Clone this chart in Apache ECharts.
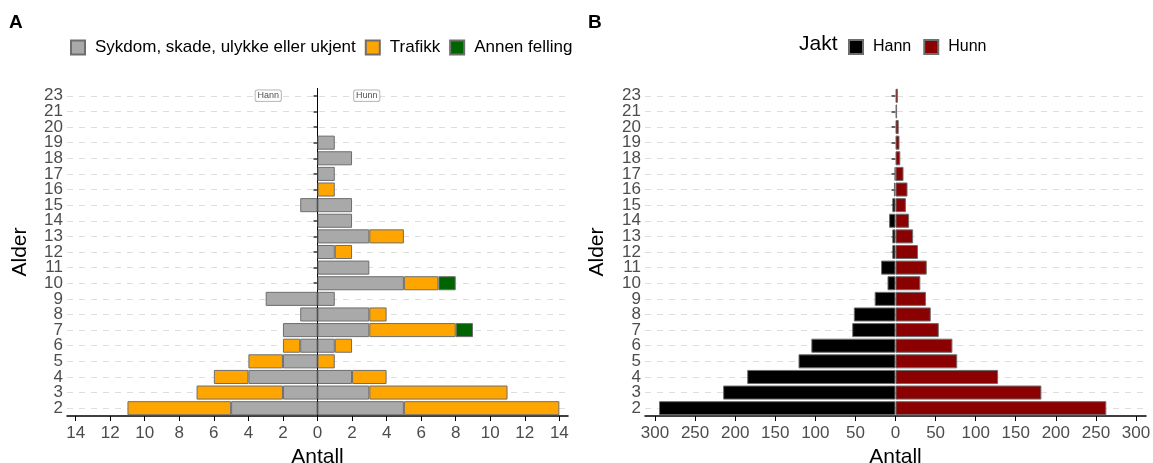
<!DOCTYPE html>
<html><head><meta charset="utf-8">
<script src="https://cdn.jsdelivr.net/npm/echarts@6/dist/echarts.min.js"></script>
<style>html,body{margin:0;padding:0;background:#fff}#c{width:1153px;height:463px}</style>
</head><body><div id="c"></div>
<script>
// Age categories (bottom to top)
const ages = ['2','3','4','5','6','7','8','9','10','11','12','13','14','15','16','17','18','19','20','21','23'];

// Panel A: counts by cause (Hann shown to the left, Hunn to the right)
const sykdomHann  = [5,2,4,2,1,2,1,3,0,0,0,0,0,1,0,0,0,0,0,0,0];
const trafikkHann = [6,5,2,2,1,0,0,0,0,0,0,0,0,0,0,0,0,0,0,0,0];
const annenHann   = [0,0,0,0,0,0,0,0,0,0,0,0,0,0,0,0,0,0,0,0,0];
const sykdomHunn  = [5,3,2,0,1,3,3,1,5,3,1,3,2,2,0,1,2,1,0,0,0];
const trafikkHunn = [9,8,2,1,1,5,1,0,2,0,1,2,0,0,1,0,0,0,0,0,0];
const annenHunn   = [0,0,0,0,0,1,0,0,1,0,0,0,0,0,0,0,0,0,0,0,0];

// Panel B: hunting (Jakt)
const jaktHann = [295,215,185,121,105,54,52,26,10,18,4,4,8,4,2,1,0,0,0,0,0];
const jaktHunn = [263,182,128,77,71,54,44,38,31,39,28,22,17,13,15,10,6,5,4,2,3];

// Tick labels
const ticksA = [-14,-12,-10,-8,-6,-4,-2,0,2,4,6,8,10,12,14];
const ticksB = [-300,-250,-200,-150,-100,-50,0,50,100,150,200,250,300];

// Annotation labels in panel A
const annotX = [-2.85, 2.85];
const annotText = ['Hann','Hunn'];
const annotAge = '23';

const causeNames = ['Sykdom, skade, ulykke eller ukjent','Trafikk','Annen felling'];
const causeColors = ['#A9A9A9','#FFA500','#006400'];

const FONT = 'Liberation Sans, Arial, sans-serif';
const neg = a => a.map(v => v === 0 ? '-' : -v);
const pos = a => a.map(v => v === 0 ? '-' : v);
const barBorder = {borderColor:'#6e6e6e', borderWidth:1};

function barSeries(name, data, color, xi) {
  return {
    type:'bar', name, data, stack: 'S' + xi, xAxisIndex: xi, yAxisIndex: xi,
    barCategoryGap:'10%', zlevel: 1, z: 3,
    itemStyle: Object.assign({color}, barBorder),
    emphasis:{disabled:true}
  };
}

const gridLineSeries = xi => ({
  type:'scatter', name:'_grid'+xi, data:[], xAxisIndex: xi, yAxisIndex: xi, zlevel:0, z:1, silent:true,
  markLine:{ silent:true, symbol:'none', animation:false,
    label:{show:false},
    lineStyle:{color:'#dedede', width:1, type:[6,6]},
    data: ages.map(a => ({yAxis:a}))
  }
});

const series = [
  gridLineSeries(0), gridLineSeries(1),
  barSeries(causeNames[0], neg(sykdomHann), causeColors[0], 0),
  barSeries(causeNames[0], pos(sykdomHunn), causeColors[0], 0),
  barSeries(causeNames[1], neg(trafikkHann), causeColors[1], 0),
  barSeries(causeNames[1], pos(trafikkHunn), causeColors[1], 0),
  barSeries(causeNames[2], neg(annenHann), causeColors[2], 0),
  barSeries(causeNames[2], pos(annenHunn), causeColors[2], 0),
  barSeries('Hann', neg(jaktHann), '#000000', 1),
  barSeries('Hunn', pos(jaktHunn), '#8B0000', 1),
  {
    type:'scatter', name:'_annot', xAxisIndex:0, yAxisIndex:0, zlevel:2, z:10, silent:true,
    symbol:'rect', symbolSize:0.1, itemStyle:{color:'rgba(0,0,0,0)'},
    data: annotX.map((x,i) => [x, annotAge, annotText[i]]),
    label:{show:true, position:'inside', formatter: p => p.value[2],
      fontFamily:FONT, fontSize:9, color:'#222', backgroundColor:'#fff',
      borderColor:'#9a9a9a', borderWidth:0.8, borderRadius:2, padding:[1,2,1,2]},
    markLine:{silent:true, symbol:'none', animation:false, label:{show:false},
      lineStyle:{color:'#000', width:1, type:'solid'}, data:[{xAxis:0}]}
  }
];

function yAxis(gi) {
  return {
    type:'category', data: ages, gridIndex: gi,
    axisLine:{show:false},
    axisTick:{show:true, interval:0, alignWithLabel:true, length:4, lineStyle:{color:'#333', width:1.5}},
    axisLabel:{interval:0, fontFamily:FONT, fontSize:17, color:'#4d4d4d', margin:4, hideOverlap:false},
    splitLine:{show:false},
    name:'Alder', nameLocation:'middle', nameGap: gi === 0 ? 36 : 37,
    nameTextStyle:{fontFamily:FONT, fontSize:21, color:'#000'}
  };
}
function xAxis(gi, lim, ticks) {
  return {
    type:'value', gridIndex: gi, min:-lim, max:lim,
    axisLine:{show:true, lineStyle:{color:'#000', width:1.5}},
    axisTick:{show:true, length:5, customValues: ticks, lineStyle:{color:'#000', width:1}},
    axisLabel:{customValues: ticks, fontFamily:FONT, fontSize:17, color:'#4d4d4d', margin:9,
      formatter: v => String(Math.abs(v))},
    splitLine:{show:false},
    name:'Antall', nameLocation:'middle', nameGap:25,
    nameTextStyle:{fontFamily:FONT, fontSize:21, color:'#000'}
  };
}

const option = {
  animation:false,
  textStyle:{fontFamily:FONT},
  grid:[
    {left:67, width:501, top:88, bottom:47, outerBoundsMode:'none', containLabel:false},
    {left:645, width:501, top:88, bottom:47, outerBoundsMode:'none', containLabel:false}
  ],
  xAxis:[xAxis(0, 14.5, ticksA), xAxis(1, 312.5, ticksB)],
  yAxis:[yAxis(0), yAxis(1)],
  legend:[
    {data: causeNames, left:65, top:34, itemWidth:14, itemHeight:14, itemGap:9, icon:'rect',
      selectedMode:false, textStyle:{fontFamily:FONT, fontSize:17, color:'#000', padding:[0,0,0,5]}},
    {data:['Hann','Hunn'], left:843, top:34, itemWidth:14, itemHeight:14, itemGap:12, icon:'rect',
      selectedMode:false, textStyle:{fontFamily:FONT, fontSize:16, color:'#000', padding:[0,0,0,5]}}
  ],
  graphic:[
    {type:'text', left:9, top:13, style:{text:'A', font:'bold 19px ' + FONT, fill:'#000'}},
    {type:'text', left:588, top:13, style:{text:'B', font:'bold 19px ' + FONT, fill:'#000'}},
    {type:'text', left:799, top:34, style:{text:'Jakt', font:'21px ' + FONT, fill:'#000'}}
  ],
  series
};

const chart = echarts.init(document.getElementById('c'), null, {renderer:'canvas'});
chart.setOption(option);
</script>
</body></html>
